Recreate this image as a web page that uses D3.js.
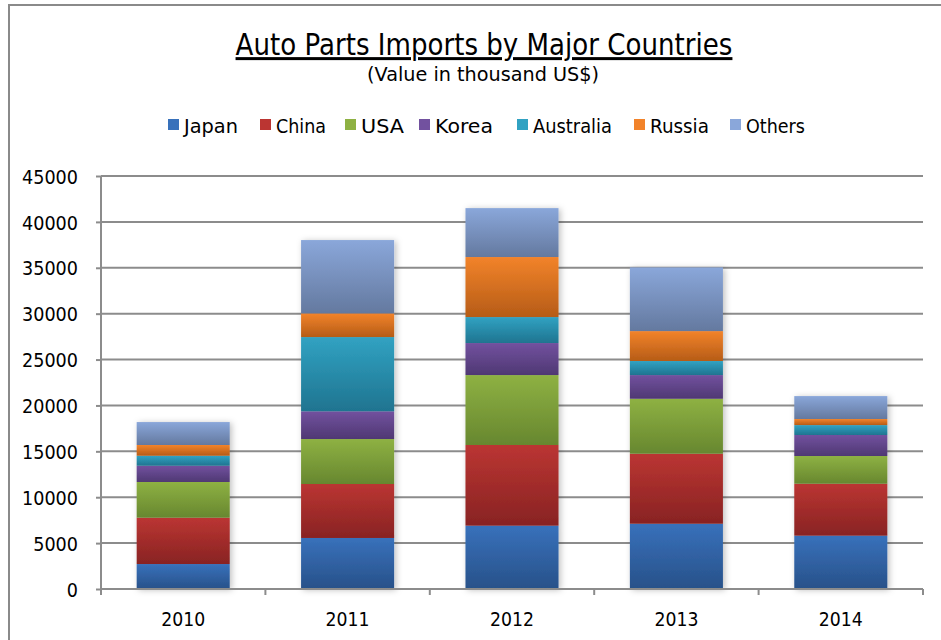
<!DOCTYPE html>
<html><head><meta charset="utf-8">
<script src="https://cdn.jsdelivr.net/npm/d3@7"></script>
<style>body{margin:0;background:#fff}svg{display:block}text{font-family:"DejaVu Sans",sans-serif;fill:#000}</style>
</head><body><svg id="c" width="941" height="640"></svg>
<script>
const years = ["2010","2011","2012","2013","2014"];
const seriesNames = ["Japan","China","USA","Korea","Australia","Russia","Others"];
const japan     = [2720, 5560, 6900, 7110, 5810];
const china     = [5050, 5880, 8790, 7630, 5660];
const usa       = [3890, 4900, 7620, 5990, 3020];
const korea     = [1770, 3020, 3490, 2580, 2290];
const australia = [1090, 8090, 2830, 1530, 1080];
const russia    = [1170, 2580, 6540, 3260, 660];
const others    = [2500, 7990, 5330, 6940, 2500];
const yTicks = [0,5000,10000,15000,20000,25000,30000,35000,40000,45000];
const colorsTop = ["#3871bb","#bb3532","#8eb143","#72519f","#31a2c2","#f2832a","#8aa7da"];
const colorsBot = ["#285189","#882323","#67872f","#4f3873","#1f7490","#b65c17","#64799f"];

const values = [japan, china, usa, korea, australia, russia, others];
const rows = years.map((y,i)=>{const r={year:y}; seriesNames.forEach((s,k)=>r[s]=values[k][i]); return r;});
const stacked = d3.stack().keys(seriesNames)(rows);

const svg = d3.select("#c");
const defs = svg.append("defs");
seriesNames.forEach((s,k)=>{
  const g = defs.append("linearGradient").attr("id","g"+k).attr("x1",0).attr("y1",0).attr("x2",0).attr("y2",1);
  g.append("stop").attr("offset","0%").attr("stop-color",colorsTop[k]);
  g.append("stop").attr("offset","100%").attr("stop-color",colorsBot[k]);
});
const f = defs.append("filter").attr("id","sh").attr("x","-20%").attr("y","-5%").attr("width","140%").attr("height","110%");
f.append("feDropShadow").attr("dx",2).attr("dy",1).attr("stdDeviation",3).attr("flood-color","#000").attr("flood-opacity",0.25);

// frame
svg.append("rect").attr("x",9).attr("y",5).attr("width",960).attr("height",700)
  .attr("fill","none").attr("stroke","#8a8a8a").attr("stroke-width",2);

const x = d3.scaleBand().domain(years).range([101,923]).paddingInner(0.434).paddingOuter(0.217);
const y = d3.scaleLinear().domain([0,45000]).range([589,176]);

// squeeze text horizontally around its anchor point to a target width
function squeeze(sel, targetW){
  sel.each(function(){
    const n = this, w = n.getComputedTextLength();
    const ax = +n.getAttribute("x")||0, ay = +n.getAttribute("y")||0;
    const s = targetW / w;
    n.setAttribute("transform",`translate(${ax},${ay}) scale(${s},1) translate(${-ax},${-ay})`);
  });
}

// gridlines
svg.append("g").selectAll("line").data(yTicks.filter(d=>d>0)).join("line")
  .attr("x1",101).attr("x2",923).attr("y1",d=>y(d)).attr("y2",d=>y(d))
  .attr("stroke","#8c8c8c").attr("stroke-width",2);

// bars
const bars = svg.append("g").attr("filter","url(#sh)");
stacked.forEach((layer,k)=>{
  bars.append("g").selectAll("rect").data(layer).join("rect")
    .attr("x",d=>x(d.data.year)).attr("width",x.bandwidth())
    .attr("y",d=>y(d[1])).attr("height",d=>y(d[0])-y(d[1]))
    .attr("fill","url(#g"+k+")");
});

// y axis
const ya = svg.append("g").attr("transform","translate(101,0)")
  .call(d3.axisLeft(y).tickValues(yTicks).tickSize(5).tickPadding(18).tickFormat(d3.format("d")));
ya.select(".domain").attr("stroke","#8c8c8c").attr("stroke-width",2).attr("d","M0,176V589");
ya.selectAll(".tick line").attr("stroke","#8c8c8c").attr("stroke-width",2);
ya.selectAll("text").style("font-size","20px").attr("dy","0.36em");
ya.selectAll("text").each(function(){ squeeze(d3.select(this), this.textContent.length*11.2); });

// x axis
const xa = svg.append("g").attr("transform","translate(0,589)");
xa.append("line").attr("x1",101).attr("x2",923).attr("stroke","#8c8c8c").attr("stroke-width",2);
const bounds = years.map(yy=>x(yy)-x.step()*x.paddingInner()/2).concat([923]);
xa.selectAll("line.t").data(bounds).join("line").attr("class","t")
  .attr("x1",d=>d).attr("x2",d=>d).attr("y1",0).attr("y2",6).attr("stroke","#8c8c8c").attr("stroke-width",2);
const xl = xa.selectAll("text").data(years).join("text")
  .attr("x",d=>x(d)+x.bandwidth()/2).attr("y",37).attr("text-anchor","middle")
  .style("font-size","20px").text(d=>d);
squeeze(xl, 44);

// title
const t1 = svg.append("text").attr("x",484).attr("y",55).attr("text-anchor","middle")
  .style("font-size","30px").style("text-decoration","underline").text("Auto Parts Imports by Major Countries");
squeeze(t1,497);
const t2 = svg.append("text").attr("x",483).attr("y",81).attr("text-anchor","middle")
  .style("font-size","20px").text("(Value in thousand US$)");
squeeze(t2,232);

// legend
const legTextX = [184,276,361,435,533,650,746];
const legW = [54,50,43,58,79,59,59];
const leg = svg.append("g");
seriesNames.forEach((s,k)=>{
  leg.append("rect").attr("x",legTextX[k]-16).attr("y",119).attr("width",11).attr("height",11).attr("fill",colorsTop[k]);
  const t = leg.append("text").attr("x",legTextX[k]).attr("y",133).style("font-size","20px").text(s);
  squeeze(t, legW[k]);
});
</script></body></html>
